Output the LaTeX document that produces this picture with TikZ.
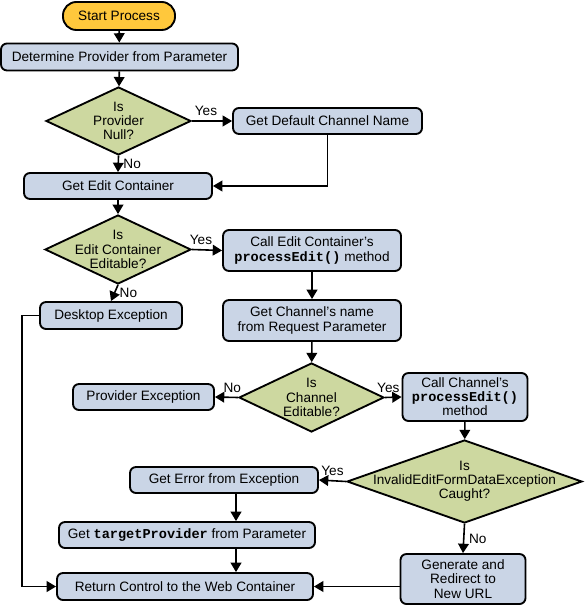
\documentclass[tikz,border=0pt]{standalone}
\usepackage{fontspec}
\setmainfont{Liberation Sans}
\setmonofont{Liberation Mono}
\usetikzlibrary{shapes.geometric,arrows.meta}
\definecolor{startfill}{RGB}{255,200,60}
\definecolor{stepfill}{RGB}{202,213,230}
\definecolor{askfill}{RGB}{205,216,160}
\tikzset{
  every node/.style={font=\fontsize{10.2}{10.6}\selectfont},
  process/.style={draw, line width=1.4pt, rounded corners=4.5pt, fill=stepfill, align=center, inner sep=0pt},
  startstop/.style={process, fill=startfill, rounded corners=10pt},
  decision/.style={diamond, draw, line width=1.4pt, fill=askfill, inner sep=0pt},
  flow/.style={-{Triangle[length=7pt,width=8pt]}, line width=1.2pt},
}
\newcommand{\code}[1]{\texttt{\textbf{#1}}}

\begin{document}
\begin{tikzpicture}[x=0.75pt,y=-0.75pt]
\useasboundingbox (0,0) rectangle (584,605);
\node[startstop, minimum width=84pt, minimum height=21pt] (start) at (119,16) {Start Process};
\node[process, minimum width=177.75pt, minimum height=20.25pt] (det) at (119.5,57) {Determine Provider from Parameter};
\node[decision, minimum width=108.75pt, minimum height=51pt, label={[align=center]center:Is\\Provider\\Null?}] (null) at (118.5,121) {};
\node[process, minimum width=141.75pt, minimum height=19.5pt] (dflt) at (327.5,121) {Get Default Channel Name};
\node[process, minimum width=141pt, minimum height=19.5pt] (getedit) at (118,186) {Get Edit Container};
\node[decision, minimum width=109.5pt, minimum height=51.75pt, label={[align=center]center:Is\\Edit Container\\Editable?}] (editable) at (118,249.5) {};
\node[process, minimum width=133.5pt, minimum height=30.75pt] (callec) at (312,250.5) {Call Edit Container's\\\code{processEdit()} method};
\node[process, minimum width=106.5pt, minimum height=20.25pt] (desk) at (111,315.5) {Desktop Exception};
\node[process, minimum width=133.5pt, minimum height=30.75pt] (chname) at (312,320.5) {Get Channel's name\\from Request Parameter};
\node[decision, minimum width=108.75pt, minimum height=51.75pt, label={[align=center]center:Is\\Channel\\Editable?}] (chedit) at (311.5,397.5) {};
\node[process, minimum width=105.75pt, minimum height=19.5pt] (provex) at (143.5,397) {Provider Exception};
\node[process, minimum width=93.75pt, minimum height=36pt] (callch) at (465,397) {Call Channel's\\\code{processEdit()}\\method};
\node[decision, minimum width=176.25pt, minimum height=62.25pt, label={[align=center]center:Is\\InvalidEditFormDataException\\Caught?}] (inv) at (464.5,481.5) {};
\node[process, minimum width=141pt, minimum height=19.5pt] (geterr) at (224,480) {Get Error from Exception};
\node[process, minimum width=192pt, minimum height=19.5pt] (gettp) at (187,535) {Get \code{targetProvider} from Parameter};
\node[process, minimum width=192pt, minimum height=20.25pt] (ret) at (185,586.5) {Return Control to the Web Container};
\node[process, minimum width=93.75pt, minimum height=37.5pt] (gen) at (463,579) {Generate and\\Redirect to\\New URL};
\coordinate (drop) at (236,0);
\draw[flow] (start) -- (det);
\draw[flow] (det) -- (null);
\draw[flow] (null.east) -- node[above, pos=0.35] {Yes} (dflt.west);
\draw[flow] (null.south) -- node[right] {No} (getedit.north);
\draw[flow] (dflt.south) |- (getedit.east);
\draw[flow] (getedit) -- (editable);
\draw[flow] (editable.east) -- node[above, pos=0.3] {Yes} (callec.west);
\draw[flow] (editable.south) -- node[right] {No} (desk.north);
\draw[flow] (callec) -- (chname);
\draw[flow] (chname) -- (chedit);
\draw[flow] (chedit.west) -- node[above, pos=0.25] {No} (provex.east);
\draw[flow] (chedit.east) -- node[above, pos=0.2] {Yes} (callch.west);
\draw[flow] (callch) -- (inv);
\draw[flow] (inv.west) -- node[above] {Yes} (geterr.east);
\draw[flow] (inv.south) -- node[right] {No} (gen.north);
\draw[flow] (geterr.south -| drop) -- (gettp.north -| drop);
\draw[flow] (gettp.south -| drop) -- (ret.north -| drop);
\draw[flow] (desk.west) -- ++(-17,0) |- (ret.west);
\draw[flow] (gen.west |- ret.east) -- (ret.east);
\end{tikzpicture}
\end{document}
